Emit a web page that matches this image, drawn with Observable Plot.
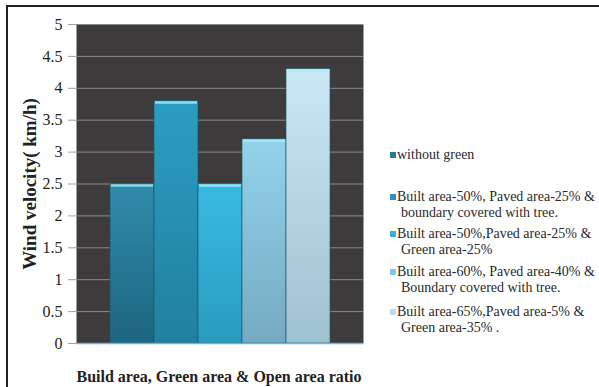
<!DOCTYPE html>
<html>
<head>
<meta charset="utf-8">
<script src="https://cdn.jsdelivr.net/npm/d3@7"></script>
<script src="https://cdn.jsdelivr.net/npm/@observablehq/plot@0.6"></script>
<style>
  html, body { margin: 0; padding: 0; background: #fff; overflow: hidden; width: 599px; height: 387px; }
  #wrap { position: relative; width: 599px; height: 387px; overflow: hidden; }
  #wrap svg { position: absolute; left: 0; top: 0; }
  #border { position: absolute; left: 6px; top: 5px; width: 700px; height: 500px;
            border-left: 2px solid #222; border-top: 2px solid #222; }
  #legend { position: absolute; left: 390px; top: 0; font-family: "Liberation Serif", "Times New Roman", serif;
            font-size: 14px; color: #2a2a2a; }
  .item { position: absolute; left: 0; white-space: nowrap; line-height: 16px; }
  .sw { display: inline-block; width: 6px; height: 6px; margin-right: 1px; vertical-align: 1px; }
  .l2 { padding-left: 11px; }
</style>
</head>
<body>
<div id="wrap"><div id="border"></div></div>
<script>
// Scenarios (one bar each) and measured wind velocity in km/h
const categories = [
  "without green",
  "Built area-50%, Paved area-25%  & boundary covered with tree.",
  "Built area-50%,Paved area-25% & Green area-25%",
  "Built area-60%, Paved area-40% & Boundary covered with tree.",
  "Built area-65%,Paved area-5% & Green area-35% ."
];
const velocities = [2.5, 3.8, 2.5, 3.2, 4.3];

// Legend lines for each scenario
const legendLines = [
  ["without green"],
  ["Built area-50%, Paved area-25%  &", "boundary covered with tree."],
  ["Built area-50%,Paved area-25% &", "Green area-25%"],
  ["Built area-60%, Paved area-40% &", "Boundary covered with tree."],
  ["Built area-65%,Paved area-5% &", "Green area-35% ."]
];
const legendTops = [147, 189, 226, 264, 304];

const yTicks = [0, 0.5, 1, 1.5, 2, 2.5, 3, 3.5, 4, 4.5, 5];
const yTitle = "Wind velocity( km/h)";
const xTitle = "Build area, Green area & Open area ratio";

// Top and bottom colours of each bar's vertical gradient
const barColors = [
  ["#2f8cab", "#1d6580"],
  ["#2b9dc2", "#21809f"],
  ["#38bbe2", "#2a9bbf"],
  ["#93d3ec", "#75aac1"],
  ["#cbe8f5", "#9ec1d1"]
];
const swatchColors = ["#27799a", "#2b95b8", "#35b2da", "#86c5df", "#bcdcea"];

const data = categories.map((c, i) => ({category: c, velocity: velocities[i]}));

const plot = Plot.plot({
  width: 599,
  height: 387,
  marginLeft: 76,
  marginRight: 236,
  marginTop: 24,
  marginBottom: 44,
  style: {fontFamily: "Liberation Serif, Times New Roman, serif", background: "transparent", color: "#222"},
  x: {domain: categories, paddingInner: 0, paddingOuter: 0.725, axis: null},
  y: {domain: [0, 5]},
  color: {domain: categories, range: categories.map((_, i) => `url(#bar${i})`)},
  marks: [
    Plot.frame({fill: "#3d3b3b", stroke: null}),
    Plot.gridY({ticks: yTicks, stroke: "#8a8a8a", strokeOpacity: 1, strokeWidth: 1}),
    Plot.axisY({ticks: yTicks, tickFormat: d => String(d), tickSize: 8, tickPadding: 6,
                fontSize: 16, stroke: "#a0a0a0", label: null}),
    Plot.barY(data, {x: "category", y: "velocity", fill: "category",
                     stroke: "#1a5568", strokeWidth: 0.8, strokeOpacity: 0.8}),
    Plot.tickY(data, {x: "category", y: "velocity", stroke: "#a8ecf7", strokeOpacity: 0.8,
                      strokeWidth: 2.5, dy: 1.5, inset: 1}),
    Plot.ruleY([0], {stroke: "#6fb7c9", strokeWidth: 1.5}),
    Plot.text([yTitle], {frameAnchor: "left", dx: -47, rotate: -90, textAnchor: "middle",
                         fontSize: 19, fontWeight: "bold", fill: "#222"}),
    Plot.text([xTitle], {frameAnchor: "bottom-left", dy: 38, textAnchor: "start",
                         lineAnchor: "bottom", fontSize: 16, fontWeight: "bold", fill: "#222"})
  ]
});

// Vertical gradients referenced by the bar fills
const defs = d3.select(plot).insert("defs", ":first-child");
barColors.forEach(([top, bottom], i) => {
  const g = defs.append("linearGradient").attr("id", `bar${i}`)
    .attr("x1", 0).attr("y1", 0).attr("x2", 0).attr("y2", 1);
  g.append("stop").attr("offset", "0%").attr("stop-color", top);
  g.append("stop").attr("offset", "100%").attr("stop-color", bottom);
});

const wrap = document.getElementById("wrap");
wrap.appendChild(plot);

// Legend to the right of the plot
const legend = document.createElement("div");
legend.id = "legend";
legendLines.forEach((lines, i) => {
  const item = document.createElement("div");
  item.className = "item";
  item.style.top = legendTops[i] + "px";
  item.innerHTML = `<span class="sw" style="background:${swatchColors[i]}"></span>${lines[0]}` +
    (lines[1] ? `<br><span class="l2">${lines[1]}</span>` : "");
  legend.appendChild(item);
});
wrap.appendChild(legend);
</script>
</body>
</html>
